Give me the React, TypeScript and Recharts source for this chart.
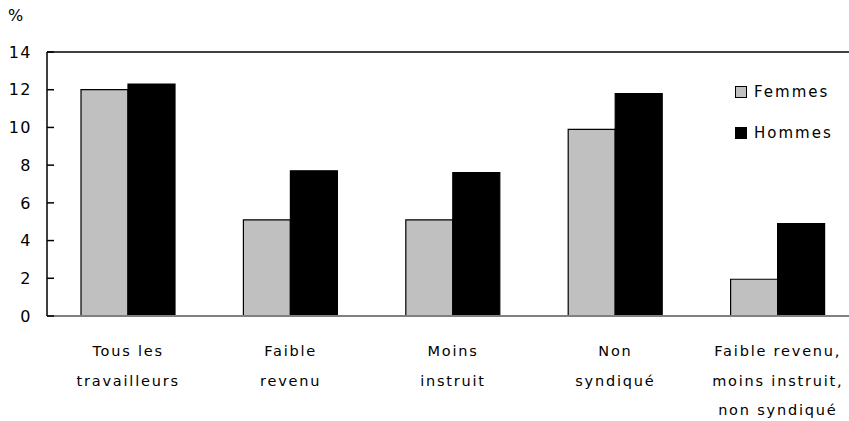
import React from "react";
import { Bar, BarChart, Legend, ReferenceLine, XAxis, YAxis } from "recharts";

const categories = [
  "Tous les\ntravailleurs",
  "Faible\nrevenu",
  "Moins\ninstruit",
  "Non\nsyndiqué",
  "Faible revenu,\nmoins instruit,\nnon syndiqué",
];
const femmes = [12.0, 5.1, 5.1, 9.9, 1.95];
const hommes = [12.3, 7.7, 7.6, 11.8, 4.9];
const yTicks = [0, 2, 4, 6, 8, 10, 12, 14];

const FONT = "'DejaVu Sans', sans-serif";

const data = categories.map((c, i) => ({ name: c, Femmes: femmes[i], Hommes: hommes[i] }));

function CategoryTick({ x, y, payload }: any) {
  const lines = String(payload.value).split("\n");
  return (
    <text
      x={x}
      y={y}
      textAnchor="middle"
      fill="#000"
      fontFamily={FONT}
      fontSize={14.5}
      letterSpacing={1.8}
    >
      {lines.map((l, i) => (
        <tspan key={i} x={x} dy={i === 0 ? 40 : 29.5}>
          {l}
        </tspan>
      ))}
    </text>
  );
}

function LegendBox({ payload }: any) {
  return (
    <div style={{ fontFamily: FONT, fontSize: 15, letterSpacing: 2, color: "#000", textAlign: "left" }}>
      {(payload || []).map((p: any, i: number) => (
        <div
          key={p.value}
          style={{ display: "flex", alignItems: "center", height: 20, marginBottom: i === 0 ? 21 : 0 }}
        >
          <span
            style={{
              display: "inline-block",
              width: 10,
              height: 10,
              background: p.value === "Femmes" ? "#C0C0C0" : "#000",
              border: "1.5px solid #000",
              marginRight: 7,
            }}
          />
          {p.value}
        </div>
      ))}
    </div>
  );
}

export default function App() {
  return (
    <div
      style={{
        position: "absolute",
        left: 0,
        top: 0,
        width: 849,
        height: 421,
        overflow: "hidden",
        background: "#fff",
      }}
    >
      <div
        style={{
          position: "absolute",
          left: 8,
          top: 6,
          fontFamily: FONT,
          fontSize: 16,
          color: "#000",
        }}
      >
        %
      </div>
      <BarChart
        width={870}
        height={421}
        data={data}
        margin={{ top: 52, right: 11, left: 0, bottom: 0 }}
        barCategoryGap={34}
        barGap={0}
      >
        <XAxis
          dataKey="name"
          height={105}
          tickSize={0}
          tickMargin={0}
          tickLine={false}
          axisLine={{ stroke: "#808080", strokeWidth: 2 }}
          tick={<CategoryTick />}
          interval={0}
        />
        <YAxis
          width={47}
          domain={[0, 14]}
          ticks={yTicks}
          interval={0}
          tickSize={-7}
          tickMargin={22}
          axisLine={{ stroke: "#000", strokeWidth: 1.5 }}
          tickLine={{ stroke: "#000", strokeWidth: 1.5 }}
          tick={{ fill: "#000", fontSize: 16, fontFamily: FONT, letterSpacing: 1.5 }}
        />
        <ReferenceLine y={14} stroke="#000" strokeWidth={1.5} />
        <Legend
          layout="horizontal"
          verticalAlign="middle"
          align="center"
          content={<LegendBox />}
          wrapperStyle={{ top: 82, left: 735, width: 120 }}
        />
        <Bar dataKey="Femmes" fill="#C0C0C0" stroke="#000" strokeWidth={1.2} isAnimationActive={false} />
        <Bar dataKey="Hommes" fill="#000" stroke="#000" strokeWidth={1.2} isAnimationActive={false} />
      </BarChart>
    </div>
  );
}
